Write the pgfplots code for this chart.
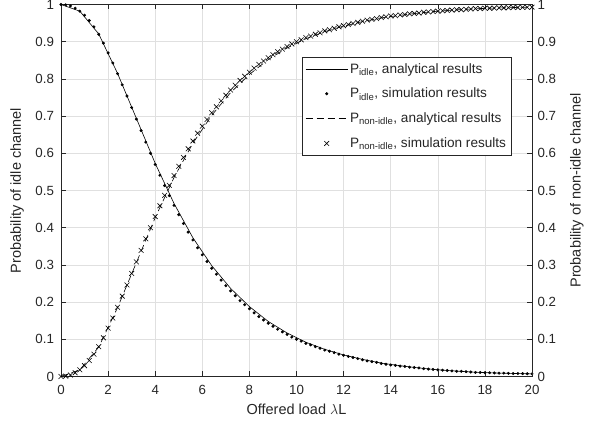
\documentclass[border=0pt]{standalone}
\usepackage{fontspec}
\setmainfont{Liberation Sans}
\usepackage{pgfplots}
\usepackage{pgfplotstable}
\pgfplotsset{compat=1.18}
\definecolor{txt}{RGB}{38,38,38}

% simulation results, step 0.2
\pgfplotstableread{
x p q
0.0 1.000 0.000
0.2 0.999 0.001
0.4 0.996 0.004
0.6 0.990 0.010
0.8 0.982 0.018
1.0 0.971 0.029
1.2 0.957 0.043
1.4 0.940 0.060
1.6 0.920 0.080
1.8 0.896 0.104
2.0 0.870 0.130
2.2 0.843 0.157
2.4 0.814 0.186
2.6 0.784 0.216
2.8 0.754 0.246
3.0 0.723 0.277
3.2 0.692 0.308
3.4 0.661 0.339
3.6 0.630 0.370
3.8 0.600 0.400
4.0 0.570 0.430
4.2 0.541 0.459
4.4 0.513 0.487
4.6 0.486 0.514
4.8 0.460 0.540
5.0 0.435 0.565
5.2 0.411 0.589
5.4 0.388 0.612
5.6 0.367 0.633
5.8 0.346 0.654
6.0 0.327 0.673
6.2 0.309 0.691
6.4 0.291 0.709
6.6 0.275 0.725
6.8 0.259 0.741
7.0 0.244 0.756
7.2 0.230 0.770
7.4 0.217 0.783
7.6 0.204 0.796
7.8 0.193 0.807
8.0 0.182 0.818
8.2 0.171 0.829
8.4 0.161 0.839
8.6 0.152 0.848
8.8 0.143 0.857
9.0 0.135 0.865
9.2 0.127 0.873
9.4 0.120 0.880
9.6 0.113 0.887
9.8 0.106 0.894
10.0 0.100 0.900
10.2 0.095 0.905
10.4 0.089 0.911
10.6 0.085 0.915
10.8 0.080 0.920
11.0 0.076 0.924
11.2 0.071 0.929
11.4 0.068 0.932
11.6 0.064 0.936
11.8 0.060 0.940
12.0 0.057 0.943
12.2 0.054 0.946
12.4 0.051 0.949
12.6 0.048 0.952
12.8 0.045 0.955
13.0 0.042 0.958
13.2 0.040 0.960
13.4 0.038 0.962
13.6 0.035 0.965
13.8 0.033 0.967
14.0 0.031 0.969
14.2 0.030 0.970
14.4 0.028 0.972
14.6 0.027 0.973
14.8 0.025 0.975
15.0 0.024 0.976
15.2 0.023 0.977
15.4 0.021 0.979
15.6 0.020 0.980
15.8 0.019 0.981
16.0 0.018 0.982
16.2 0.017 0.983
16.4 0.016 0.984
16.6 0.015 0.985
16.8 0.014 0.986
17.0 0.014 0.986
17.2 0.013 0.987
17.4 0.012 0.988
17.6 0.011 0.989
17.8 0.011 0.989
18.0 0.010 0.990
18.2 0.010 0.990
18.4 0.0095 0.9905
18.6 0.009 0.991
18.8 0.009 0.991
19.0 0.0085 0.9915
19.2 0.008 0.992
19.4 0.008 0.992
19.6 0.0077 0.9923
19.8 0.0074 0.9926
20.0 0.0071 0.9929
}\simdata

% analytical results, step 0.8
\pgfplotstableread{
x p q
0.0 1.000 0.000
0.8 0.982 0.018
1.6 0.921 0.079
2.4 0.815 0.185
3.2 0.694 0.306
4.0 0.573 0.427
4.8 0.465 0.535
5.6 0.373 0.627
6.4 0.298 0.702
7.2 0.237 0.763
8.0 0.188 0.812
8.8 0.148 0.852
9.6 0.117 0.883
10.4 0.092 0.908
11.2 0.073 0.927
12.0 0.058 0.942
12.8 0.046 0.954
13.6 0.036 0.964
14.4 0.029 0.971
15.2 0.023 0.977
16.0 0.018 0.982
16.8 0.0145 0.9855
17.6 0.0115 0.9885
18.4 0.0095 0.9905
19.2 0.0082 0.9918
20.0 0.0071 0.9929
}\anadata

\tikzset{lab/.style={font=\fontsize{14.5}{17}\selectfont, text=txt, rotate=#1, anchor=center}}
\pgfplotsset{
  base/.style={
    at={(0,0)}, anchor=south west,
    scale only axis, width=471pt, height=372pt,
    xmin=0, xmax=20, ymin=0, ymax=1,
    xtick={0,2,...,20}, ytick={0,0.1,...,1},
    tick align=inside, major tick length=5pt,
    axis line style={color=txt, line width=0.6pt},
    tick style={color=txt, line width=0.6pt},
    ticklabel style={font=\fontsize{13.3}{15}\selectfont, text=txt},
    /pgf/number format/assume math mode=true,
    yticklabel style={/pgf/number format/fixed, /pgf/number format/precision=1},
  },
}

\begin{document}
\begin{tikzpicture}
\useasboundingbox (-61pt,-50.5pt) rectangle (530pt,376.5pt);
\begin{axis}[
  base,
  xtick pos=both, ytick pos=left,
  grid=major, major grid style={color=black!12, line width=0.5pt},
  xticklabel style={yshift=-5pt},
  yticklabel style={xshift=-3.5pt},
  xlabel={Offered load $\lambda$L},
  ylabel={Probability of idle channel},
  every axis x label/.style={at={(axis description cs:0.5,-0.089)}, lab=0},
  every axis y label/.style={at={(axis description cs:-0.093,0.5)}, lab=90},
  legend image code/.code={\draw[mark repeat=2,mark phase=2,#1] plot coordinates {(0pt,0pt) (21pt,0pt) (42pt,0pt)};},
  legend style={at={(axis description cs:0.512,0.859)}, anchor=north west,
    draw=txt, line width=0.5pt, fill=white, text=txt,
    font=\fontsize{13.6}{15}\selectfont, row sep=9.5pt,
    inner xsep=3pt, inner ysep=4pt,
    cells={anchor=west}},
]
\addplot[color=black, line width=0.6pt] table[x=x, y=p]{\anadata};
\addlegendentry{P\textsubscript{idle}, analytical results}
\addplot[only marks, mark=*, mark size=1.3pt, color=black] table[x=x, y=p]{\simdata};
\addlegendentry{P\textsubscript{idle}, simulation results}
\addplot[color=black, line width=0.6pt, dash pattern=on 7pt off 4pt] table[x=x, y=q]{\anadata};
\addlegendentry{P\textsubscript{non-idle}, analytical results}
\addplot[only marks, mark=x, mark size=3.4pt, color=black, line width=0.6pt] table[x=x, y=q]{\simdata};
\addlegendentry{P\textsubscript{non-idle}, simulation results}
\end{axis}
\begin{axis}[
  base,
  axis x line=none, axis y line*=right,
  yticklabel style={xshift=2pt},
  ylabel={Probability of non-idle channel},
  every axis y label/.style={at={(axis description cs:1.0955,0.5)}, lab=90},
]
\end{axis}
\end{tikzpicture}
\end{document}
